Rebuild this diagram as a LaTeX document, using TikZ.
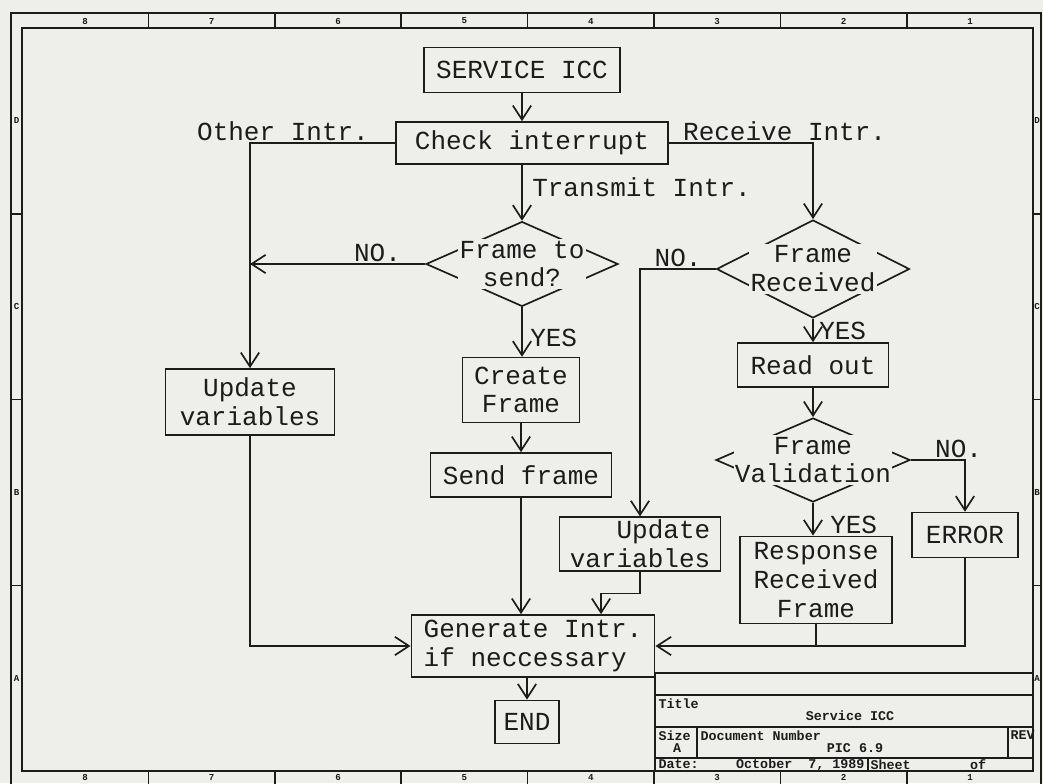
\documentclass[tikz,border=0pt]{standalone}
\usepackage{fontspec}
\newfontfamily\plotfont{Liberation Mono}
\definecolor{paper}{HTML}{EEEEEB}
\definecolor{ink}{HTML}{1C1C1C}
\usetikzlibrary{positioning, shapes.geometric, arrows.meta}
\begin{document}
\begin{tikzpicture}[x=0.025cm, y=-0.025cm, ink, line width=1.2pt,
  box/.style={draw, rectangle, inner sep=2pt, align=center, font=\plotfont\fontsize{18.5}{20.5}\selectfont},
  decision/.style={draw, diamond, inner sep=0pt},
  dtext/.style={fill=paper, inner sep=1pt, align=center, font=\plotfont\fontsize{18.5}{20.5}\selectfont},
  lbl/.style={inner sep=1pt, font=\plotfont\fontsize{18.5}{20.5}\selectfont},
  flow/.style={-{Straight Barb[length=10pt,width=13pt]}},
  tb/.style={inner sep=0.5pt, font=\plotfont\fontsize{9.5}{11}\selectfont\bfseries},
  zone/.style={inner sep=0pt, font=\plotfont\fontsize{6.5}{7}\selectfont\bfseries}]
  \fill[paper] (0,0) rectangle (1043,783);
  \useasboundingbox (0,0) rectangle (1043,783);

  \draw[line width=1.5pt] (11,13) rectangle (1041,800);
  \draw[line width=1.5pt] (22,28) rectangle (1033,771);
  \foreach \i in {1,...,7}{
    \draw (22+\i*126.4,13) -- (22+\i*126.4,28);
    \draw (22+\i*126.4,771) -- (22+\i*126.4,800);
  }
  \foreach \n [count=\i] in {8,7,6,5,4,3,2,1}{
    \node[zone] at (22+\i*126.4-63.2,21) {\n};
    \node[zone] at (22+\i*126.4-63.2,777.5) {\n};
  }
  \foreach \i in {1,2,3}{
    \draw (11,28+\i*185.8) -- (22,28+\i*185.8);
    \draw (1033,28+\i*185.8) -- (1041,28+\i*185.8);
  }
  \foreach \z [count=\i] in {D,C,B,A}{
    \node[zone] at (16.5,28+\i*185.8-93) {\z};
    \node[zone] at (1037,28+\i*185.8-93) {\z};
  }

  \node[box, minimum width=4.9cm, minimum height=1.12cm] (service) at (522,70) {SERVICE ICC};
  \node[box, minimum width=6.8cm, minimum height=1.05cm] (check) at (532,143) {Check interrupt};
  \node[decision, minimum width=4.8cm, minimum height=2.12cm] (sendq) at (522,264) {};
  \node[dtext] (sendqtxt) at (sendq) {Frame to\\send?};
  \node[decision, minimum width=4.82cm, minimum height=2.45cm] (recv) at (813,269) {};
  \node[dtext] (recvtxt) at (recv) {Frame\\Received};
  \node[box, minimum width=4.22cm, minimum height=1.65cm] (upd1) at (250,402) {Update\\variables};
  \node[box, minimum width=2.93cm, minimum height=1.62cm] (create) at (521,390) {Create\\Frame};
  \node[box, minimum width=4.52cm, minimum height=1.1cm] (sendf) at (521,475) {Send frame};
  \node[box, minimum width=3.78cm, minimum height=1.1cm] (readout) at (813,365) {Read out};
  \node[decision, minimum width=4.85cm, minimum height=2.1cm] (valid) at (813,460) {};
  \node[dtext] (validtxt) at (valid) {Frame\\Validation};
  \node[box, align=right, minimum width=4.02cm, minimum height=1.33cm] (upd2) at (640,544) {Update\\variables};
  \node[box, minimum width=3.8cm, minimum height=2.18cm] (resp) at (816,580) {Response\\Received\\Frame};
  \node[box, minimum width=2.65cm, minimum height=1.12cm] (error) at (965,535) {ERROR};
  \node[box, align=left, minimum width=6.08cm, minimum height=1.55cm] (gen) at (533,646) {Generate Intr.\\if neccessary};
  \node[box, minimum width=1.6cm, minimum height=1.08cm] (endb) at (527,722) {END};

  \draw[flow] (service.south) -- (service.south |- check.north);
  \draw[flow] (check.south -| sendq) -- (sendq.north);
  \draw[flow] (check.west) -| (upd1.north);
  \draw[flow] (check.east) -| (recv.north);
  \draw[flow] (sendq.west) -- (sendq.west -| upd1.north);
  \draw[flow] (sendq.south) -- (sendq.south |- create.north);
  \draw[flow] (create.south) -- (sendf.north);
  \draw[flow] (sendf.south) -- (sendf.south |- gen.north);
  \draw[flow] (upd1.south) |- (gen.west);
  \draw[flow] (recv.west) -| (upd2.north);
  \draw[flow] (upd2.south) -- ++(0,22) -| ([xshift=1.7cm]gen.north);
  \draw[flow] (recv.south) -- (readout.north);
  \draw[flow] (readout.south) -- (valid.north);
  \draw[flow] (valid.south) -- (valid.south |- resp.north);
  \draw[flow] (valid.east) -| (error.north);
  \draw[flow] (error.south) |- (gen.east);
  \draw (resp.south) -- (resp.south |- gen.east);
  \draw[flow] (gen.south -| endb) -- (endb.north);

  \node[lbl, anchor=south east] (otherlbl) at ([xshift=-0.6cm]check.west) {Other Intr.};
  \node[lbl, anchor=south west] (recvlbl) at ([xshift=0.3cm]check.east) {Receive Intr.};
  \node[lbl, anchor=west] (txlbl) at (530,187) {Transmit Intr.};
  \node[lbl, anchor=south east] (nosend) at ([xshift=-0.55cm]sendq.west) {NO.};
  \node[lbl, anchor=west] (yessend) at (528,338) {YES};
  \node[lbl, anchor=south east] (norecv) at ([xshift=-0.3cm]recv.west) {NO.};
  \node[lbl, anchor=south west] (yesrecv) at ([xshift=0.1cm]readout.north) {YES};
  \node[lbl, anchor=south west] (novalid) at ([xshift=0.55cm]valid.east) {NO.};
  \node[lbl, anchor=south west] (yesvalid) at ([xshift=0.3cm]resp.north) {YES};

  \draw (655,673) -- (1033,673);
  \draw (655,695) -- (1033,695);
  \draw (655,727) -- (1033,727);
  \draw (655,758) -- (1033,758);
  \draw (655,673) -- (655,771);
  \draw (697,727) -- (697,758);
  \draw (1008,727) -- (1008,758);
  \draw (868,758) -- (868,771);
  \node[tb, anchor=north west] (tbtitle) at (657,697) {Title};
  \node[tb] (tbname) at (850,716) {Service ICC};
  \node[tb, anchor=north west] (tbsize) at (657,729) {Size};
  \node[tb, anchor=north west] (tbdoc) at (699,729) {Document Number};
  \node[tb, anchor=north west] (tbrev) at (1009,729) {REV};
  \node[tb] (tbsz) at (677,748) {A};
  \node[tb] (tbnum) at (855,748) {PIC 6.9};
  \node[tb, anchor=west] (tbdate) at (657,764.5) {Date:};
  \node[tb, anchor=east] (tbday) at (866,764.5) {October~~7, 1989};
  \node[tb, anchor=west] (tbsheet) at (869,764.5) {Sheet};
  \node[tb] (tbof) at (978,764.5) {of};
\end{tikzpicture}
\end{document}
